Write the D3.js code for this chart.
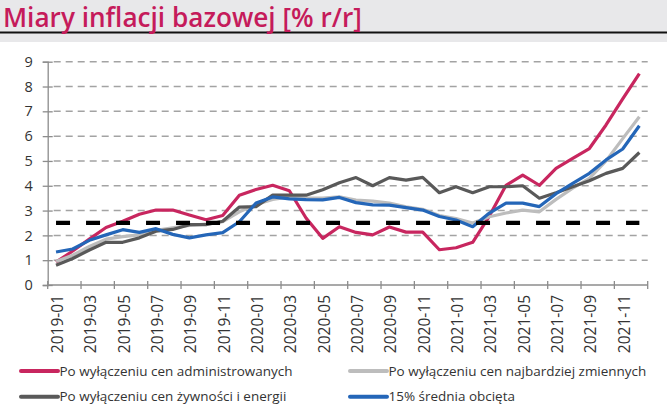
<!DOCTYPE html>
<html>
<head>
<meta charset="utf-8">
<script src="https://cdn.jsdelivr.net/npm/d3@7"></script>
<style>
html,body{margin:0;padding:0;background:#fff;}
svg{display:block;}
</style>
</head>
<body>
<svg id="chart" width="667" height="417"></svg>
<script>
const months = ["2019-01","2019-02","2019-03","2019-04","2019-05","2019-06","2019-07","2019-08","2019-09","2019-10","2019-11","2019-12",
"2020-01","2020-02","2020-03","2020-04","2020-05","2020-06","2020-07","2020-08","2020-09","2020-10","2020-11","2020-12",
"2021-01","2021-02","2021-03","2021-04","2021-05","2021-06","2021-07","2021-08","2021-09","2021-10","2021-11","2021-12"];
const exAdministered = [0.92,1.37,1.85,2.32,2.57,2.85,3.02,3.02,2.82,2.63,2.8,3.62,3.85,4.02,3.8,2.7,1.88,2.35,2.12,2.02,2.34,2.13,2.13,1.42,1.5,1.72,2.78,4.02,4.43,4.02,4.7,5.1,5.5,6.45,7.5,8.52];
const exVolatile = [0.95,1.2,1.55,1.85,1.95,2.02,2.2,2.3,2.4,2.45,2.55,2.95,3.25,3.45,3.55,3.5,3.5,3.55,3.42,3.38,3.3,3.15,3.05,2.8,2.68,2.5,2.75,2.9,3.02,2.95,3.45,3.9,4.3,5.0,5.9,6.78];
const exFoodEnergy = [0.8,1.07,1.41,1.72,1.72,1.9,2.17,2.24,2.43,2.43,2.57,3.14,3.16,3.62,3.62,3.62,3.84,4.12,4.33,4.0,4.33,4.23,4.34,3.72,3.96,3.72,3.96,3.96,4.0,3.5,3.72,3.96,4.2,4.5,4.7,5.34];
const trimmedMean = [1.33,1.45,1.8,2.02,2.23,2.12,2.27,2.04,1.9,2.02,2.11,2.55,3.3,3.55,3.47,3.44,3.43,3.53,3.32,3.23,3.22,3.12,3.02,2.76,2.62,2.35,2.9,3.3,3.3,3.16,3.68,4.1,4.5,5.04,5.48,6.42];
const target = 2.5;
const yTicks = [0,1,2,3,4,5,6,7,8,9];
const seriesNames = ["Po wyłączeniu cen administrowanych","Po wyłączeniu cen najbardziej zmiennych","Po wyłączeniu cen żywności i energii","15% średnia obcięta"];
const seriesColors = ["#c8265f","#bdbdbd","#595959","#2466b8"];
const title = "Miary inflacji bazowej [% r/r]";

(function(){
const svg = d3.select("#chart");
const W = 667, H = 417;
const pLeft = 47.7, pRight = 647.7, pTop = 61.7, pBottom = 285;
const font = "'Open Sans', sans-serif";

// header band
svg.append("rect").attr("x",0).attr("y",0).attr("width",W).attr("height",42).attr("fill","#e8e8ea");
svg.append("line").attr("x1",0).attr("x2",W).attr("y1",32.5).attr("y2",32.5).attr("stroke","#111").attr("stroke-width",2);
const t = svg.append("text").attr("x",3).attr("y",27).attr("fill","#c51b5b")
  .style("font-family",font).style("font-weight","600").style("font-size","24px").text(title);
{
  const w = t.node().getComputedTextLength();
  t.style("font-size",(24*359/w).toFixed(2)+"px");
}

const x = d3.scaleBand().domain(months).range([pLeft,pRight]).paddingInner(0).paddingOuter(0);
const y = d3.scaleLinear().domain([0,9]).range([pBottom,pTop]);
const cx = d => x(d) + x.bandwidth()/2;

// gridlines
svg.append("g").selectAll("line").data(yTicks.filter(v=>v>0)).join("line")
  .attr("x1",pLeft+6).attr("x2",pRight).attr("y1",d=>y(d)).attr("y2",d=>y(d))
  .attr("stroke","#a3a3a3").attr("stroke-width",1.5).attr("stroke-dasharray","7,5");

// y axis
const yAxis = d3.axisLeft(y).tickValues(yTicks).tickSize(5).tickPadding(10).tickFormat(d3.format("d"));
const gy = svg.append("g").attr("transform",`translate(${pLeft},0)`).call(yAxis);
gy.select(".domain").attr("stroke","#8c8c8c").attr("stroke-width",1.3);
gy.selectAll(".tick line").attr("stroke","#8c8c8c").attr("stroke-width",1.3).attr("x2",-5).attr("x1",5);
gy.selectAll(".tick text").style("font-family",font).style("font-size","14.5px").attr("fill","#333");

// x axis
const gx = svg.append("g").attr("transform",`translate(0,${pBottom})`);
gx.append("line").attr("x1",pLeft).attr("x2",pRight).attr("stroke","#8c8c8c").attr("stroke-width",1.3);
const boundaries = d3.range(0, months.length+1, 2).map(i => pLeft + i*x.bandwidth());
gx.selectAll(".xt").data(boundaries).join("line").attr("class","xt")
  .attr("x1",d=>d).attr("x2",d=>d).attr("y1",-4).attr("y2",4).attr("stroke","#8c8c8c").attr("stroke-width",1.3);
gx.selectAll(".xl").data(months.filter((m,i)=>i%2===0)).join("text").attr("class","xl")
  .attr("transform",d=>`translate(${cx(d)+1.5},10) rotate(-90)`)
  .attr("text-anchor","end").attr("dy","0.35em")
  .style("font-family",font).style("font-size","15.5px").attr("fill","#333").text(d=>d);

// series
const allSeries = [exAdministered, exVolatile, exFoodEnergy, trimmedMean];
const line = d3.line().x((d,i)=>cx(months[i])).y(d=>y(d));
allSeries.forEach((s,k)=>{
  svg.append("path").datum(s).attr("d",line).attr("fill","none")
    .attr("stroke",seriesColors[k]).attr("stroke-width",3.2).attr("stroke-linejoin","round");
});

// target dashed line
svg.append("path").datum(months.map(()=>target)).attr("d",line).attr("fill","none")
  .attr("stroke","#000").attr("stroke-width",4.2).attr("stroke-dasharray","14,16");

// legend
const legPos = [[21,371],[350,371],[21,396.7],[350,396.7]];
const lg = svg.append("g");
[0,1,2,3].forEach((k,j)=>{
  const [lx,ly] = legPos[j];
  lg.append("line").attr("x1",lx).attr("x2",lx+37).attr("y1",ly).attr("y2",ly)
    .attr("stroke",seriesColors[k]).attr("stroke-width",4).attr("stroke-linecap","round");
  lg.append("text").attr("class","lt").attr("x",lx+38.5).attr("y",ly).attr("dy","0.35em")
    .style("font-family",font).style("font-size","13px").attr("fill","#333").text(seriesNames[k]);
});
{
  const first = lg.select(".lt").node();
  const w = first.getComputedTextLength();
  const fs = 13*233/w;
  lg.selectAll(".lt").style("font-size",fs.toFixed(2)+"px");
}
})();
</script>
</body>
</html>
